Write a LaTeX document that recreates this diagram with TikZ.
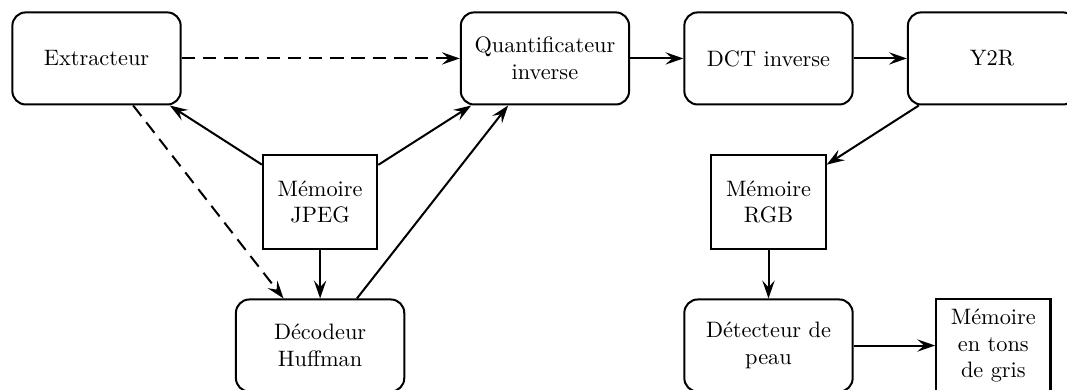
\documentclass[tikz,border=0pt]{standalone}
\usetikzlibrary{arrows.meta}
\begin{document}
\begin{tikzpicture}[line width=0.9pt, >={Stealth[length=8pt,width=5.5pt,inset=3pt]},
		bloc/.style={draw, rounded corners=6pt, align=center, minimum width=2.65cm, minimum height=1.45cm},
		memoire/.style={draw, align=center, minimum width=1.8cm, minimum height=1.47cm},
		controle/.style={dash pattern=on 6pt off 3.5pt}]
				\useasboundingbox (0,0) rectangle (16.8,-6.14);
				% processing blocks
				\node[bloc] (extracteur) at (1.52,-0.92) {Extracteur};
				\node[bloc] (quantif) at (8.58,-0.92) {Quantificateur\\inverse};
				\node[bloc] (dct) at (12.10,-0.92) {DCT inverse};
				\node[bloc] (y2r) at (15.62,-0.92) {Y2R};
				\node[bloc] (huffman) at (5.04,-5.44) {Décodeur\\Huffman};
				\node[bloc] (peau) at (12.10,-5.44) {Détecteur de\\peau};
				% memories
				\node[memoire] (jpeg) at (5.04,-3.18) {Mémoire\\JPEG};
				\node[memoire] (rgb) at (12.10,-3.18) {Mémoire\\RGB};
				\node[memoire] (gris) at (15.64,-5.44) {Mémoire\\en tons\\de gris};
				
				% control
				\draw[->, controle] (extracteur) -- (quantif);
				\draw[->, controle] (extracteur) -- (huffman);
				% data
				\draw[->] (jpeg) -- (extracteur);
				\draw[->] (jpeg) -- (quantif);
				\draw[->] (jpeg) -- (huffman);
				\draw[->] (huffman) -- (quantif);
				\draw[->] (quantif) -- (dct);
				\draw[->] (dct) -- (y2r);
				\draw[->] (y2r) -- (rgb);
				\draw[->] (rgb) -- (peau);
				\draw[->] (peau) -- (gris);
			\end{tikzpicture}
\end{document}
